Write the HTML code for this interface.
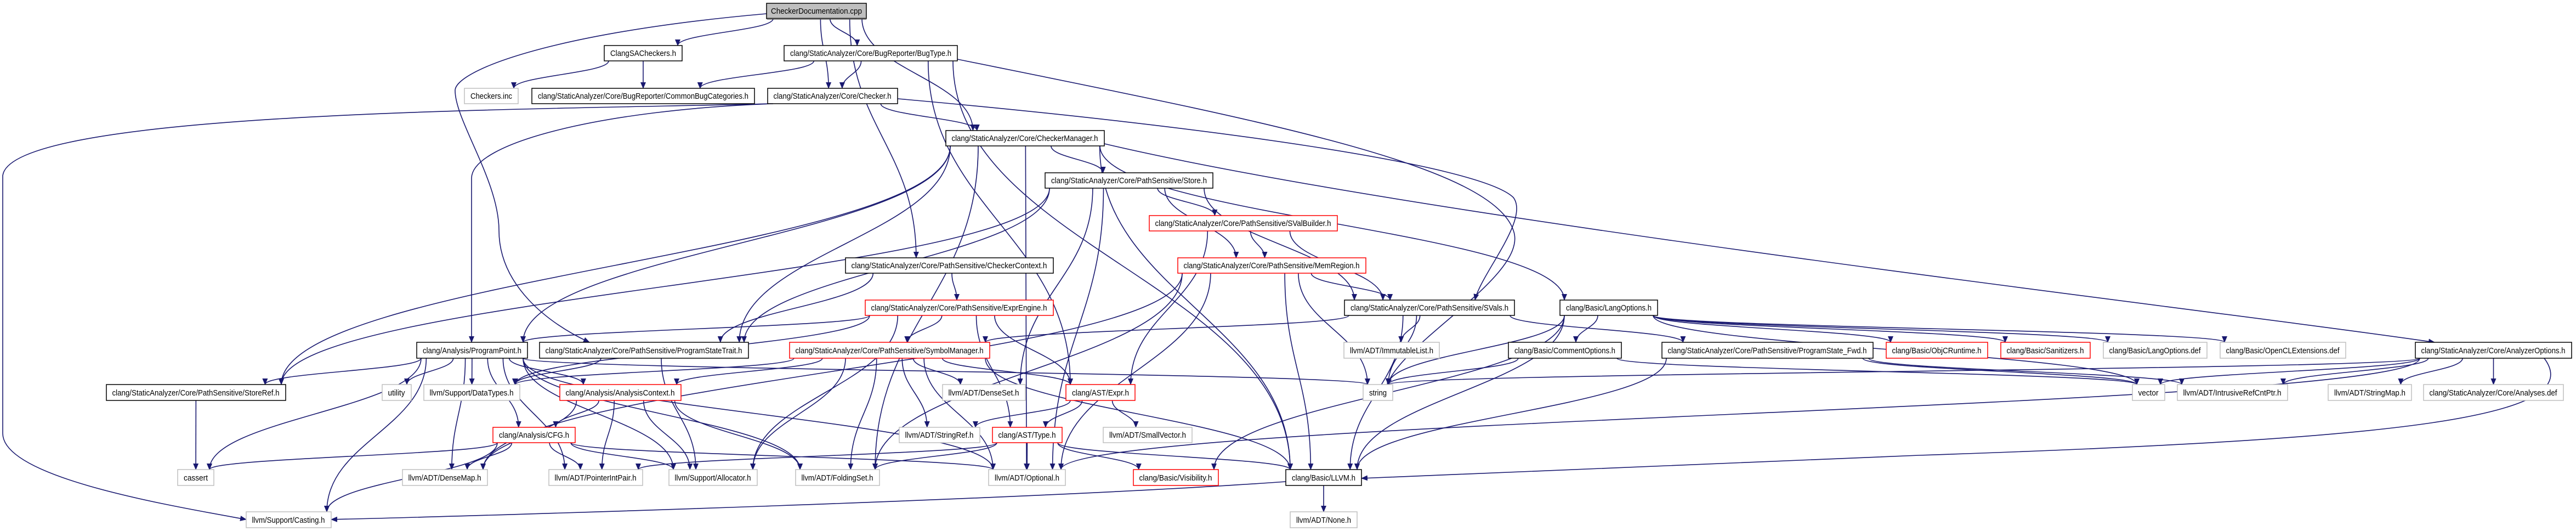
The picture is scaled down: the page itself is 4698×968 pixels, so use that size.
<!DOCTYPE html>
<html><head><meta charset="utf-8"><style>
html,body{margin:0;padding:0;background:#fff;}
svg{display:block;}
text{font-family:"Liberation Sans",sans-serif;font-size:15px;fill:#000;}
</style></head><body>
<svg id="g" width="4698" height="968" viewBox="0 0 4698 968" xmlns="http://www.w3.org/2000/svg">
<defs><marker id="ah" markerUnits="userSpaceOnUse" markerWidth="12" markerHeight="10" refX="11" refY="5" orient="auto"><path d="M0,0 L12,5 L0,10 z" fill="#191970"/></marker></defs>
<g id="edges" fill="none" stroke="#191970" stroke-width="1.6"></g>
<g id="nodes">
<rect x="1398" y="6" width="182" height="28" fill="#bfbfbf" stroke="#000" stroke-width="1.5"/><line x1="1399" y1="34" x2="1580" y2="34" stroke="#444" stroke-width="3"/><text x="1489" y="25" text-anchor="middle" textLength="166" lengthAdjust="spacingAndGlyphs">CheckerDocumentation.cpp</text>
<g fill="#fff" stroke="#000" stroke-width="1.5">
<rect x="1102" y="83" width="142" height="28"/><rect x="1430" y="83" width="316" height="28"/>
<rect x="970" y="161" width="406" height="28"/><rect x="1400" y="161" width="237" height="28"/>
<rect x="1725" y="238" width="289" height="28"/><rect x="1906" y="315" width="306" height="28"/>
<rect x="1542" y="470" width="379" height="28"/><rect x="2452" y="547" width="310" height="28"/><rect x="2845" y="547" width="178" height="28"/>
<rect x="760" y="624" width="202" height="29"/><rect x="984" y="624" width="381" height="29"/><rect x="2751" y="624" width="206" height="29"/><rect x="3031" y="624" width="385" height="29"/><rect x="4405" y="624" width="285" height="29"/>
<rect x="194" y="701" width="327" height="29"/><rect x="2345" y="856" width="138" height="29"/>
</g>
<g fill="#fff" stroke="#f00" stroke-width="1.5">
<rect x="2096" y="393" width="343" height="28"/><rect x="2148" y="470" width="343" height="28"/><rect x="1578" y="547" width="343" height="28"/>
<rect x="1440" y="624" width="365" height="29"/><rect x="3440" y="624" width="185" height="29"/><rect x="3649" y="624" width="163" height="29"/>
<rect x="1021" y="701" width="221" height="29"/><rect x="1944" y="701" width="126" height="29"/>
<rect x="899" y="779" width="150" height="28"/><rect x="1810" y="779" width="127" height="28"/><rect x="2067" y="856" width="155" height="29"/>
</g>
<g fill="#fff" stroke="#bfbfbf" stroke-width="1.5">
<rect x="847" y="161" width="98" height="28"/><rect x="2451" y="624" width="174" height="29"/><rect x="3836" y="624" width="189" height="29"/><rect x="4049" y="624" width="229" height="29"/>
<rect x="697" y="701" width="53" height="29"/><rect x="773" y="701" width="175" height="29"/><rect x="1719" y="701" width="151" height="29"/><rect x="2486" y="701" width="54" height="29"/>
<rect x="3889" y="701" width="59" height="29"/><rect x="3971" y="701" width="201" height="29"/><rect x="4246" y="701" width="152" height="29"/><rect x="4420" y="701" width="255" height="29"/>
<rect x="1640" y="779" width="147" height="28"/><rect x="2012" y="779" width="162" height="28"/>
<rect x="324" y="856" width="66" height="29"/><rect x="734" y="856" width="155" height="29"/><rect x="1001" y="856" width="171" height="29"/><rect x="1220" y="856" width="161" height="29"/><rect x="1451" y="856" width="153" height="29"/><rect x="1803" y="856" width="140" height="29"/>
<rect x="449" y="933" width="155" height="29"/><rect x="2353" y="933" width="122" height="29"/>
</g>
<g text-anchor="middle">
<text x="1173" y="102" textLength="120" lengthAdjust="spacingAndGlyphs">ClangSACheckers.h</text>
<text x="1588" y="102" textLength="294" lengthAdjust="spacingAndGlyphs">clang/StaticAnalyzer/Core/BugReporter/BugType.h</text>
<text x="896" y="180" textLength="76" lengthAdjust="spacingAndGlyphs">Checkers.inc</text>
<text x="1173" y="180" textLength="384" lengthAdjust="spacingAndGlyphs">clang/StaticAnalyzer/Core/BugReporter/CommonBugCategories.h</text>
<text x="1518" y="180" textLength="215" lengthAdjust="spacingAndGlyphs">clang/StaticAnalyzer/Core/Checker.h</text>
<text x="1869" y="257" textLength="267" lengthAdjust="spacingAndGlyphs">clang/StaticAnalyzer/Core/CheckerManager.h</text>
<text x="2059" y="334" textLength="284" lengthAdjust="spacingAndGlyphs">clang/StaticAnalyzer/Core/PathSensitive/Store.h</text>
<text x="2267" y="412" textLength="321" lengthAdjust="spacingAndGlyphs">clang/StaticAnalyzer/Core/PathSensitive/SValBuilder.h</text>
<text x="1731" y="489" textLength="357" lengthAdjust="spacingAndGlyphs">clang/StaticAnalyzer/Core/PathSensitive/CheckerContext.h</text>
<text x="2319" y="489" textLength="321" lengthAdjust="spacingAndGlyphs">clang/StaticAnalyzer/Core/PathSensitive/MemRegion.h</text>
<text x="1749" y="566" textLength="321" lengthAdjust="spacingAndGlyphs">clang/StaticAnalyzer/Core/PathSensitive/ExprEngine.h</text>
<text x="2607" y="566" textLength="288" lengthAdjust="spacingAndGlyphs">clang/StaticAnalyzer/Core/PathSensitive/SVals.h</text>
<text x="2934" y="566" textLength="156" lengthAdjust="spacingAndGlyphs">clang/Basic/LangOptions.h</text>
<text x="861" y="644" textLength="180" lengthAdjust="spacingAndGlyphs">clang/Analysis/ProgramPoint.h</text>
<text x="1174" y="644" textLength="359" lengthAdjust="spacingAndGlyphs">clang/StaticAnalyzer/Core/PathSensitive/ProgramStateTrait.h</text>
<text x="1622" y="644" textLength="343" lengthAdjust="spacingAndGlyphs">clang/StaticAnalyzer/Core/PathSensitive/SymbolManager.h</text>
<text x="2538" y="644" textLength="152" lengthAdjust="spacingAndGlyphs">llvm/ADT/ImmutableList.h</text>
<text x="2854" y="644" textLength="184" lengthAdjust="spacingAndGlyphs">clang/Basic/CommentOptions.h</text>
<text x="3223" y="644" textLength="363" lengthAdjust="spacingAndGlyphs">clang/StaticAnalyzer/Core/PathSensitive/ProgramState_Fwd.h</text>
<text x="3532" y="644" textLength="163" lengthAdjust="spacingAndGlyphs">clang/Basic/ObjCRuntime.h</text>
<text x="3730" y="644" textLength="141" lengthAdjust="spacingAndGlyphs">clang/Basic/Sanitizers.h</text>
<text x="3930" y="644" textLength="167" lengthAdjust="spacingAndGlyphs">clang/Basic/LangOptions.def</text>
<text x="4163" y="644" textLength="207" lengthAdjust="spacingAndGlyphs">clang/Basic/OpenCLExtensions.def</text>
<text x="4547" y="644" textLength="263" lengthAdjust="spacingAndGlyphs">clang/StaticAnalyzer/Core/AnalyzerOptions.h</text>
<text x="357" y="721" textLength="305" lengthAdjust="spacingAndGlyphs">clang/StaticAnalyzer/Core/PathSensitive/StoreRef.h</text>
<text x="723" y="721" textLength="31" lengthAdjust="spacingAndGlyphs">utility</text>
<text x="860" y="721" textLength="153" lengthAdjust="spacingAndGlyphs">llvm/Support/DataTypes.h</text>
<text x="1131" y="721" textLength="199" lengthAdjust="spacingAndGlyphs">clang/Analysis/AnalysisContext.h</text>
<text x="1794" y="721" textLength="129" lengthAdjust="spacingAndGlyphs">llvm/ADT/DenseSet.h</text>
<text x="2007" y="721" textLength="104" lengthAdjust="spacingAndGlyphs">clang/AST/Expr.h</text>
<text x="2513" y="721" textLength="32" lengthAdjust="spacingAndGlyphs">string</text>
<text x="3918" y="721" textLength="37" lengthAdjust="spacingAndGlyphs">vector</text>
<text x="4071" y="721" textLength="179" lengthAdjust="spacingAndGlyphs">llvm/ADT/IntrusiveRefCntPtr.h</text>
<text x="4322" y="721" textLength="130" lengthAdjust="spacingAndGlyphs">llvm/ADT/StringMap.h</text>
<text x="4547" y="721" textLength="233" lengthAdjust="spacingAndGlyphs">clang/StaticAnalyzer/Core/Analyses.def</text>
<text x="974" y="798" textLength="128" lengthAdjust="spacingAndGlyphs">clang/Analysis/CFG.h</text>
<text x="1713" y="798" textLength="125" lengthAdjust="spacingAndGlyphs">llvm/ADT/StringRef.h</text>
<text x="1873" y="798" textLength="105" lengthAdjust="spacingAndGlyphs">clang/AST/Type.h</text>
<text x="2093" y="798" textLength="140" lengthAdjust="spacingAndGlyphs">llvm/ADT/SmallVector.h</text>
<text x="357" y="876" textLength="44" lengthAdjust="spacingAndGlyphs">cassert</text>
<text x="811" y="876" textLength="133" lengthAdjust="spacingAndGlyphs">llvm/ADT/DenseMap.h</text>
<text x="1086" y="876" textLength="149" lengthAdjust="spacingAndGlyphs">llvm/ADT/PointerIntPair.h</text>
<text x="1300" y="876" textLength="139" lengthAdjust="spacingAndGlyphs">llvm/Support/Allocator.h</text>
<text x="1527" y="876" textLength="131" lengthAdjust="spacingAndGlyphs">llvm/ADT/FoldingSet.h</text>
<text x="1873" y="876" textLength="118" lengthAdjust="spacingAndGlyphs">llvm/ADT/Optional.h</text>
<text x="2144" y="876" textLength="133" lengthAdjust="spacingAndGlyphs">clang/Basic/Visibility.h</text>
<text x="2414" y="876" textLength="116" lengthAdjust="spacingAndGlyphs">clang/Basic/LLVM.h</text>
<text x="526" y="953" textLength="133" lengthAdjust="spacingAndGlyphs">llvm/Support/Casting.h</text>
<text x="2414" y="953" textLength="100" lengthAdjust="spacingAndGlyphs">llvm/ADT/None.h</text>
</g>
</g>
</svg>
<script>
var N={CD:[1398,1580,6,34],SAC:[1102,1244,83,111],BT:[1430,1746,83,111],CI:[847,945,161,189],CBC:[970,1376,161,189],CH:[1400,1637,161,189],
CM:[1725,2014,238,266],ST:[1906,2212,315,343],SVB:[2096,2439,393,421],CC:[1542,1921,470,498],MR:[2148,2491,470,498],EE:[1578,1921,547,575],SV:[2452,2762,547,575],LO:[2845,3023,547,575],
PP:[760,962,624,653],PST:[984,1365,624,653],SM:[1440,1805,624,653],IL:[2451,2625,624,653],CO:[2751,2957,624,653],PSF:[3031,3416,624,653],OBJ:[3440,3625,624,653],SAN:[3649,3812,624,653],LOD:[3836,4025,624,653],OCL:[4049,4278,624,653],AO:[4405,4690,624,653],
SR:[194,521,701,730],UT:[697,750,701,730],DT:[773,948,701,730],AC:[1021,1242,701,730],DS:[1719,1870,701,730],EX:[1944,2070,701,730],STR:[2486,2540,701,730],VEC:[3889,3948,701,730],IRC:[3971,4172,701,730],SMAP:[4246,4398,701,730],ADEF:[4420,4675,701,730],
CFG:[899,1049,779,807],SREF:[1640,1787,779,807],TY:[1810,1937,779,807],SV2:[2012,2174,779,807],
CA:[324,390,856,885],DM:[734,889,856,885],PIP:[1001,1172,856,885],AL:[1220,1381,856,885],FS:[1451,1604,856,885],OPT:[1803,1943,856,885],VIS:[2067,2222,856,885],LLVM:[2345,2483,856,885],
CAST:[449,604,933,962],NONE:[2353,2475,933,962]};
var E="CD SAC,CD CH,CD BT,CD CM,CD CC,SAC CI,SAC CBC,BT CBC,BT CH,BT EX,BT LLVM,CH CM,CM ST,CM PP,CM PST,CM SR,CM LLVM,CM LO,CM FS,CM OPT,ST SVB,ST MR,ST SR,ST DS,ST OPT,ST PST,ST SV,SVB MR,SVB SV,SVB EX,CC EE,CC PST,MR SV,MR STR,MR LLVM,MR FS,MR OPT,MR DM,EE SM,EE TY,EE EX,EE AL,EE PP,EE DT,SV SM,SV IL,SV LLVM,SV PSF,SV STR,LO CO,LO STR,LO OBJ,LO SAN,LO LOD,LO OCL,LO VIS,LO LLVM,LO VEC,PP SR,PP UT,PP DT,PP AC,PP CFG,PP DM,PP CA,PP CAST,PP AL,PP FS,PP PIP,PP STR,PP OPT,PST DT,PST AL,SM DT,SM AC,SM DS,SM EX,SM AL,SM FS,SM LLVM,SM SREF,SM OPT,CO STR,CO VEC,PSF LLVM,PSF VEC,PSF IRC,AO STR,AO VEC,AO IRC,AO SMAP,AO ADEF,AO OPT,SR CA,AC CFG,AC DM,AC AL,AC FS,AC PIP,CFG CA,CFG DM,CFG PIP,CFG AL,CFG CAST,CFG OPT,EX SREF,EX TY,EX SV2,TY FS,TY OPT,TY VIS,TY LLVM,TY PIP,LLVM NONE".split(",");
var g=document.getElementById("edges"),s="";
function cl(v,a,b){return Math.max(a,Math.min(b,v));}
E.forEach(function(e){var p=e.split(" "),a=N[p[0]],b=N[p[1]];
var ac=(a[0]+a[1])/2,bc=(b[0]+b[1])/2;
var sx=cl(ac+(bc-ac)*0.25,a[0]+8,a[1]-8),tx=cl(bc+(ac-bc)*0.25,b[0]+8,b[1]-8);
var sy=a[3],ty=b[2];
if(b[2]<=a[2]){sy=(a[2]+a[3])/2;ty=(b[2]+b[3])/2;sx=ac<bc?a[1]:a[0];tx=ac<bc?b[0]:b[1];}
var dy=Math.max(ty-sy,20);
s+='<path d="M'+sx+','+sy+' C'+sx+','+(sy+dy*0.45)+' '+tx+','+(ty-dy*0.45)+' '+tx+','+ty+'" marker-end="url(#ah)"/>';});
var C=["M1410,189 C1000,200 20,200 5,320 L5,790 C5,870 300,920 449,947",
"M1398,25 C1000,60 830,130 830,165 C830,220 910,330 910,420 C910,520 1000,590 1075,624",
"M1410,189 C1100,200 860,260 860,325 L860,624",
"M4640,653 C4720,760 4400,800 3500,830 C3000,850 2700,860 2483,872",
"M1637,180 C2200,230 2700,300 2760,360 C2790,400 2700,500 2690,547",
"M1746,108 C2300,220 2720,300 2760,420 C2790,500 2560,620 2530,701",
"M2014,262 C2600,400 4000,560 4440,624",
"M2345,878 C1900,910 900,940 604,947"];
C.forEach(function(d){s+='<path d="'+d+'" marker-end="url(#ah)"/>';});
g.innerHTML=s;
</script>
</body></html>
